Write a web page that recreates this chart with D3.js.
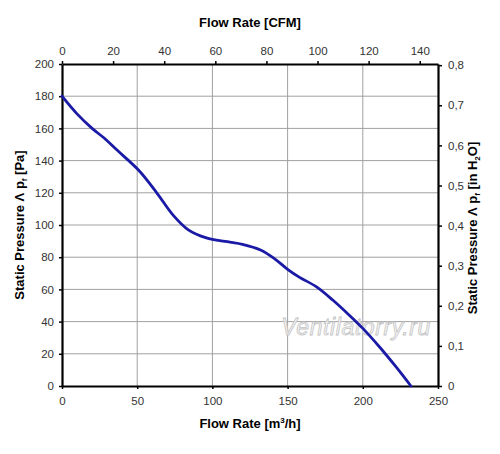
<!DOCTYPE html>
<html><head><meta charset="utf-8">
<script src="https://cdn.jsdelivr.net/npm/d3@7"></script>
<style>body{margin:0;background:#fff}svg{display:block;font-family:"Liberation Sans",Arial,sans-serif}</style>
</head><body>
<script>
// data
const flowM3h = [0, 10, 20, 28, 36, 51, 63, 74, 84, 96, 110, 120, 132, 141, 150, 158, 169, 180, 191, 200, 211, 222, 232];
const pressurePa = [180, 169, 160, 154, 147, 134, 120, 106, 97, 92, 89.6, 88, 84.5, 79.3, 72.5, 67.5, 61.7, 53.4, 44, 35.8, 24.4, 12, 0];
const bottomTicks = [0, 50, 100, 150, 200, 250];
const leftTicks = [0, 20, 40, 60, 80, 100, 120, 140, 160, 180, 200];
const topTicks = [0, 20, 40, 60, 80, 100, 120, 140];
const rightTicks = [0, 0.1, 0.2, 0.3, 0.4, 0.5, 0.6, 0.7, 0.8];
const CFM_PER_M3H = 1 / 1.699;
const INH2O_PER_PA = 1 / 249.1;

const W = 500, H = 454;
const m = {left: 62, right: 62, top: 64, bottom: 68};
const svg = d3.select("body").append("svg").attr("width", W).attr("height", H);

const x = d3.scaleLinear().domain([0, 250]).range([m.left, W - m.right]);
const y = d3.scaleLinear().domain([0, 200]).range([H - m.bottom, m.top]);
const xTop = d3.scaleLinear().domain([0, 250 * CFM_PER_M3H]).range([m.left, W - m.right]);
const yRight = d3.scaleLinear().domain([0, 200 * INH2O_PER_PA]).range([H - m.bottom, m.top]);

// grid
const g = svg.append("g");
g.selectAll(".gx").data(bottomTicks.slice(1, -1)).join("line")
  .attr("x1", d => x(d)).attr("x2", d => x(d)).attr("y1", y(0)).attr("y2", y(200))
  .attr("stroke", "#a0a0a0").attr("stroke-width", 1);
g.selectAll(".gy").data(leftTicks.slice(1, -1)).join("line")
  .attr("y1", d => y(d)).attr("y2", d => y(d)).attr("x1", x(0)).attr("x2", x(250))
  .attr("stroke", "#a0a0a0").attr("stroke-width", 1);

// watermark
svg.append("text").attr("x", 356).attr("y", 335).attr("text-anchor", "middle")
  .attr("font-family", "Liberation Sans, sans-serif").attr("font-style", "italic")
  .attr("font-size", 23).attr("fill", "#f6f6f6").attr("stroke", "#c4c4c4").attr("stroke-width", 0.8)
  .attr("letter-spacing", 0.6)
  .text("Ventilatorry.ru");

// axes
const tickColor = "#333";
function styleAxis(sel) {
  sel.selectAll("text").attr("fill", tickColor).attr("font-size", 11.5).attr("font-family", "Liberation Sans, Arial, sans-serif");
  sel.selectAll(".tick line").attr("stroke", "#000").attr("stroke-width", 1.5);
  sel.select(".domain").attr("stroke", "#000").attr("stroke-width", 2.2);
}
const fmtComma = d => d === 0 ? "0" : d3.format(".1f")(d).replace(".", ",");

svg.append("g").attr("transform", `translate(0,${y(0)})`)
  .call(d3.axisBottom(x).tickValues(bottomTicks).tickSize(3).tickSizeOuter(0).tickPadding(8))
  .call(styleAxis);
svg.append("g").attr("transform", `translate(${x(0)},0)`)
  .call(d3.axisLeft(y).tickValues(leftTicks).tickSize(3).tickSizeOuter(0).tickPadding(5))
  .call(styleAxis);
svg.append("g").attr("transform", `translate(0,${y(200)})`)
  .call(d3.axisTop(xTop).tickValues(topTicks).tickSize(3).tickSizeOuter(0).tickPadding(6))
  .call(styleAxis);
svg.append("g").attr("transform", `translate(${x(250)},0)`)
  .call(d3.axisRight(yRight).tickValues(rightTicks).tickFormat(fmtComma).tickSize(4).tickSizeOuter(0).tickPadding(6))
  .call(styleAxis);

// curve
const pts = flowM3h.map((f, i) => [f, pressurePa[i]]);
svg.append("path").datum(pts)
  .attr("fill", "none").attr("stroke", "#1a1aa6").attr("stroke-width", 2.8)
  .attr("stroke-linejoin", "round").attr("stroke-linecap", "round")
  .attr("d", d3.line().x(d => x(d[0])).y(d => y(d[1])).curve(d3.curveCatmullRom.alpha(0.5)));

// titles
const bold = {"font-weight": "bold", "font-size": 13, "fill": "#000"};
function lab(t) { Object.entries(bold).forEach(([k, v]) => t.attr(k, v)); return t; }
lab(svg.append("text").attr("x", 250).attr("y", 27).attr("text-anchor", "middle")).text("Flow Rate [CFM]");
const bt = lab(svg.append("text").attr("x", 250).attr("y", 428).attr("text-anchor", "middle"));
bt.append("tspan").text("Flow Rate [m");
bt.append("tspan").attr("font-size", 8).attr("dy", -5).text("3");
bt.append("tspan").attr("dy", 5).text("/h]");

const lt = lab(svg.append("text").attr("transform", "translate(24,225) rotate(-90)").attr("text-anchor", "middle"));
lt.append("tspan").text("Static Pressure Λ p");
lt.append("tspan").attr("font-size", 8).attr("dy", 3).text("f");
lt.append("tspan").attr("dy", -3).text(" [Pa]");

const rt = lab(svg.append("text").attr("transform", "translate(477,228) rotate(-90)").attr("text-anchor", "middle"));
rt.append("tspan").text("Static Pressure Λ p");
rt.append("tspan").attr("font-size", 8).attr("dy", 3).text("f");
rt.append("tspan").attr("dy", -3).text(" [in H");
rt.append("tspan").attr("font-size", 8).attr("dy", 3).text("2");
rt.append("tspan").attr("dy", -3).text("O]");
</script>
</body></html>
